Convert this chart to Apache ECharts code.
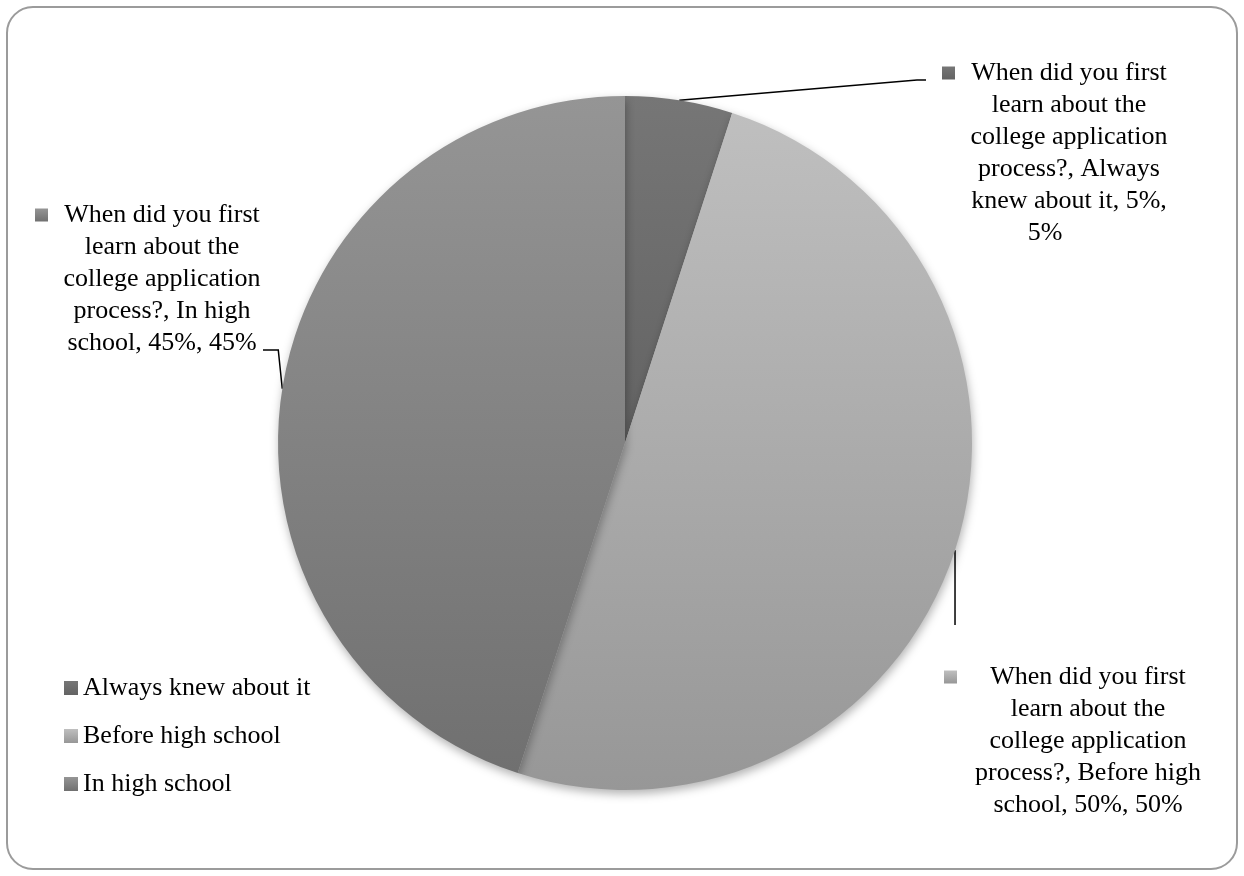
<!DOCTYPE html>
<html>
<head>
<meta charset="utf-8">
<style>
  html, body { margin: 0; padding: 0; background: #fff; }
  #chart { width: 1244px; height: 876px; }
</style>
<script src="https://cdn.jsdelivr.net/npm/echarts@6/dist/echarts.min.js"></script>
</head>
<body>
<div id="chart"></div>
<script>
// data
const question = 'When did you first learn about the college application process?';
const categories = ['Always knew about it', 'Before high school', 'In high school'];
const shares = [5, 50, 45];
// wrapped data label text, as in the original
const labelLines = [
  ['When did you first', 'learn about the', 'college application', 'process?, Always', 'knew about it, 5%,', '5%'],
  ['When did you first', 'learn about the', 'college application', 'process?, Before high', 'school, 50%, 50%'],
  ['When did you first', 'learn about the', 'college application', 'process?, In high', 'school, 45%, 45%']
];
const sliceColors = [
  ['#767676', '#636363'],
  ['#bfbfbf', '#979797'],
  ['#959595', '#707070']
];

// label box placement (left, top, width), plus a right pad for the last line
const labelBoxes = [
  { x: 942, y: 57, w: 254, lastPad: 48 },
  { x: 944, y: 661, w: 288, lastPad: 0 },
  { x: 35, y: 199, w: 254, lastPad: 0 }
];

const FONT = '"Liberation Serif", "Times New Roman", serif';

function grad(c) {
  return new echarts.graphic.LinearGradient(0, 0, 0, 1, [
    { offset: 0, color: c[0] },
    { offset: 1, color: c[1] }
  ]);
}

function labelText(lines, pad) {
  return lines.map((l, k) => {
    if (k === 0) return '{m|}{t|' + l + '}{s|}';
    if (k === lines.length - 1 && pad) return '{t|' + l + '}{p|}';
    return '{t|' + l + '}';
  }).join('\n');
}

const chart = echarts.init(document.getElementById('chart'), null, { renderer: 'canvas' });

const seriesData = categories.map((name, i) => ({
  name: name,
  value: shares[i],
  itemStyle: { color: grad(sliceColors[i]) },
  label: {
    width: labelBoxes[i].w,
    overflow: 'none',
    formatter: labelText(labelLines[i], labelBoxes[i].lastPad),
    rich: {
      m: { width: 13, height: 13, backgroundColor: grad(sliceColors[i]), verticalAlign: 'middle' },
      s: { width: 13, align: 'right' },
      p: { width: labelBoxes[i].lastPad, align: 'right' },
      t: { fontSize: 26, lineHeight: 32, fontFamily: FONT, color: '#000', align: 'center' }
    }
  }
}));

chart.setOption({
  animation: false,
  backgroundColor: '#fff',
  graphic: [{
    type: 'rect',
    z: -10,
    shape: { x: 7, y: 7, width: 1230, height: 862, r: 26 },
    style: { fill: 'none', stroke: '#9b9b9b', lineWidth: 2 }
  }],
  legend: {
    orient: 'vertical',
    left: 64,
    top: 675,
    padding: 0,
    itemWidth: 14,
    itemHeight: 14,
    itemGap: 22,
    icon: 'rect',
    data: categories,
    textStyle: { fontSize: 26, lineHeight: 26, fontFamily: FONT, color: '#000' }
  },
  series: [{
    type: 'pie',
    name: question,
    center: [625, 443],
    radius: 347,
    startAngle: 90,
    clockwise: true,
    avoidLabelOverlap: false,
    itemStyle: {
      borderWidth: 0,
      shadowBlur: 10,
      shadowColor: 'rgba(0,0,0,0.3)',
      shadowOffsetX: 1,
      shadowOffsetY: 4
    },
    emphasis: { disabled: true },
    label: { show: true, position: 'outside' },
    labelLine: { show: true, length: 20, length2: 10, lineStyle: { color: '#000', width: 1.5 } },
    labelLayout: function (params) {
      const i = params.dataIndex;
      const b = labelBoxes[i];
      const p0 = params.labelLinePoints ? params.labelLinePoints[0] : null;
      let pts;
      if (i === 0) {
        pts = [p0, [b.x - 25, b.y + 23], [b.x - 16, b.y + 23]];
      } else if (i === 1) {
        pts = [p0, [p0[0], b.y - 36]];
      } else {
        pts = [p0, [p0[0] - 4, b.y + 151], [b.x + 228, b.y + 151]];
      }
      return {
        x: b.x,
        y: b.y,
        align: 'left',
        verticalAlign: 'top',
        labelLinePoints: p0 ? pts : undefined
      };
    },
    data: seriesData
  }]
});

window.addEventListener('resize', () => chart.resize());
</script>
</body>
</html>
